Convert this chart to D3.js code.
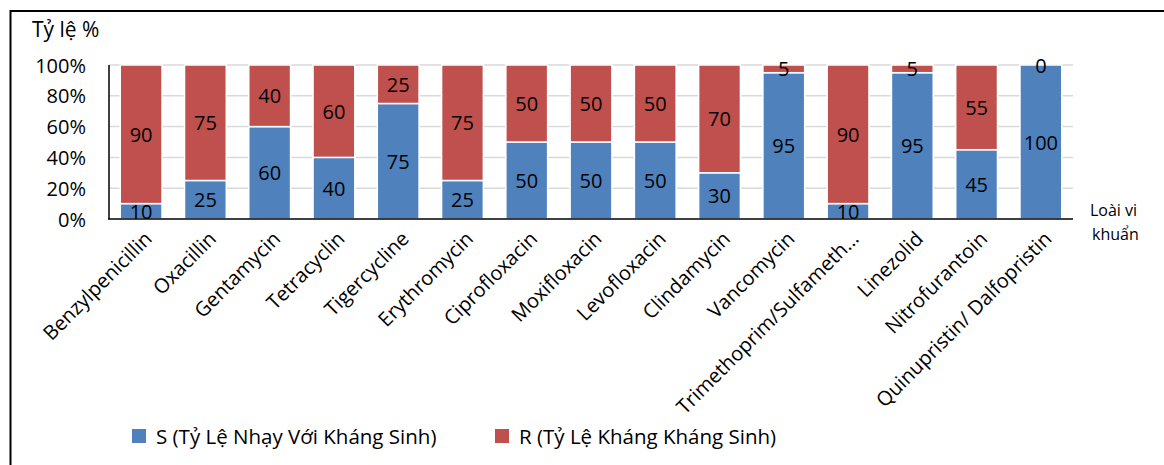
<!DOCTYPE html>
<html>
<head>
<meta charset="utf-8">
<script src="https://cdn.jsdelivr.net/npm/d3@7"></script>
<style>
  body { margin: 0; background: #fff; }
  text { font-family: "Open Sans", sans-serif; fill: #000; }
</style>
</head>
<body>
<svg id="chart" width="1164" height="465"></svg>
<script>
// antibiotics on the x axis
var drugs = ["Benzylpenicillin", "Oxacillin", "Gentamycin", "Tetracyclin", "Tigercycline",
  "Erythromycin", "Ciprofloxacin", "Moxifloxacin", "Levofloxacin", "Clindamycin",
  "Vancomycin", "Trimethoprim/Sulfameth...", "Linezolid", "Nitrofurantoin", "Quinupristin/ Dalfopristin"];
// S = sensitive, R = resistant (percent)
var sValues = [10, 25, 60, 40, 75, 25, 50, 50, 50, 30, 95, 10, 95, 45, 100];
var rValues = [90, 75, 40, 60, 25, 75, 50, 50, 50, 70, 5, 90, 5, 55, 0];
var yTicks = [0, 20, 40, 60, 80, 100];
var seriesNames = ["S (Tỷ Lệ Nhạy Với Kháng Sinh)", "R (Tỷ Lệ Kháng Kháng Sinh)"];
var colors = ["#4F81BD", "#C0504D"];

var svg = d3.select('#chart');

// outer frame (right/bottom edges fall outside the picture)
svg.append('rect')
  .attr('x', 10.5).attr('y', 11)
  .attr('width', 1170).attr('height', 470)
  .attr('fill', 'none')
  .attr('stroke', '#000')
  .attr('stroke-width', 2);

var x = d3.scaleBand().domain(drugs).range([109, 1073]).paddingInner(0.35).paddingOuter(0.175);
var y = d3.scaleLinear().domain([0, 100]).range([219, 65]);

// gridlines
svg.append('g').selectAll('line').data(yTicks.slice(1)).join('line')
  .attr('x1', 109).attr('x2', 1073)
  .attr('y1', d => y(d)).attr('y2', d => y(d))
  .attr('stroke', '#d9d9d9').attr('stroke-width', 1.5);

// y tick labels
svg.append('g').selectAll('text').data(yTicks).join('text')
  .attr('x', 86).attr('y', d => y(d))
  .attr('text-anchor', 'end')
  .attr('dominant-baseline', 'central')
  .style('font-size', '20px')
  .text(d => d + '%');

// stack the two series
var rows = drugs.map((d, i) => ({ drug: d, S: sValues[i], R: rValues[i] }));
var stack = d3.stack().keys(['S', 'R'])(rows);

var layers = svg.append('g').selectAll('g').data(stack).join('g')
  .attr('fill', (d, i) => colors[i]);

layers.selectAll('rect').data(d => d).join('rect')
  .attr('x', d => x(d.data.drug))
  .attr('width', x.bandwidth())
  .attr('y', d => y(d[1]))
  .attr('height', d => y(d[0]) - y(d[1]))
  .attr('stroke', '#fff')
  .attr('stroke-width', 1.5);

// value labels in the middle of each segment
layers.selectAll('text').data(d => d.map(v => ({ v: v, key: d.key }))).join('text')
  .attr('x', d => x(d.v.data.drug) + x.bandwidth() / 2)
  .attr('y', d => y((d.v[0] + d.v[1]) / 2))
  .attr('text-anchor', 'middle')
  .attr('dominant-baseline', 'central')
  .style('font-size', '20px')
  .text(d => d.v.data[d.key]);

// axes lines
svg.append('line').attr('x1', 109).attr('x2', 109).attr('y1', 65).attr('y2', 219)
  .attr('stroke', '#000').attr('stroke-width', 1.5);
svg.append('line').attr('x1', 108).attr('x2', 1073).attr('y1', 219).attr('y2', 219)
  .attr('stroke', '#000').attr('stroke-width', 1.5);

// rotated category labels
svg.append('g').selectAll('text').data(drugs).join('text')
  .attr('transform', d => `translate(${x(d) + x.bandwidth() / 2 + 12}, 240) rotate(-45)`)
  .attr('text-anchor', 'end')
  .style('font-size', '20px')
  .text(d => d);

// axis titles
svg.append('text').attr('x', 32).attr('y', 29)
  .attr('dominant-baseline', 'central')
  .style('font-size', '21px').text('Tỷ lệ %');
svg.append('text').attr('x', 1090).attr('y', 210)
  .attr('dominant-baseline', 'central')
  .style('font-size', '16px').text('Loài vi');
svg.append('text').attr('x', 1092).attr('y', 234)
  .attr('dominant-baseline', 'central')
  .style('font-size', '16px').text('khuẩn');

// legend
var legendX = [132, 495];
var legend = svg.append('g').selectAll('g').data(seriesNames).join('g')
  .attr('transform', (d, i) => `translate(${legendX[i]}, 436)`);
legend.append('rect').attr('x', 0).attr('y', -7).attr('width', 14).attr('height', 14)
  .attr('fill', (d, i) => colors[i]);
legend.append('text').attr('x', 24).attr('y', 0)
  .attr('dominant-baseline', 'central')
  .style('font-size', '20.5px')
  .text(d => d);
</script>
</body>
</html>
